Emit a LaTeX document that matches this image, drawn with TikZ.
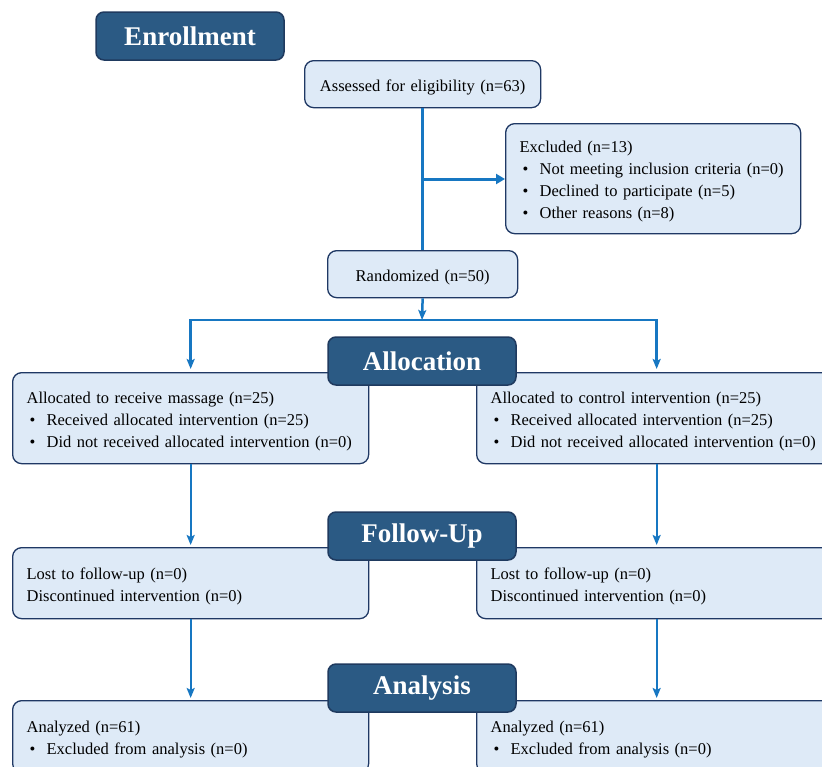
\documentclass[tikz,border=0pt]{standalone}
\usepackage{fontspec}
\setmainfont{Liberation Serif}
\usetikzlibrary{arrows.meta}
\definecolor{hdr}{HTML}{2B5A84}
\definecolor{hdrb}{HTML}{1F3A5F}
\definecolor{boxf}{HTML}{DEEAF7}
\definecolor{boxb}{HTML}{1F3864}
\definecolor{arr}{HTML}{1777C2}
\newcommand{\bul}{\hspace*{3pt}\makebox[17pt][l]{\textbullet}}
\begin{document}
\begin{tikzpicture}[x=1pt,y=-1pt,
 hdrbox/.style={draw=hdrb, fill=hdr, line width=1.5pt, rounded corners=8pt,
   minimum width=188pt, minimum height=48pt, text=white,
   font=\fontsize{27}{30}\selectfont\bfseries, inner sep=0pt},
 infobox/.style={draw=boxb, fill=boxf, line width=1.3pt, rounded corners=9pt,
   anchor=north west, inner xsep=14pt, inner ysep=0pt, align=left,
   font=\fontsize{16.5}{22}\selectfont},
 lower/.style={execute at begin node={\rule{0pt}{17.3pt}}},
 flow/.style={draw=arr, line width=2pt},
 tipA/.style={-{Triangle[length=9pt,width=10pt]}},
 tipB/.style={-{Stealth[length=10pt,width=8pt,inset=2pt]}}
]
\useasboundingbox (0,0) rectangle (822,766);
\fill[white] (0,0) rectangle (822,766);

% info boxes
\node[infobox, lower, align=center, minimum width=236pt, minimum height=47pt, text width=208pt] (assess) at (304,60) {Assessed for eligibility (n=63)};
\node[infobox, lower, minimum width=295pt, minimum height=110pt, text width=267pt] (excl) at (505,123)
 {Excluded (n=13)\\ \bul Not meeting inclusion criteria (n=0)\\ \bul Declined to participate (n=5)\\ \bul Other reasons (n=8)};
\node[infobox, lower, align=center, minimum width=190pt, minimum height=47pt, text width=162pt] (rand) at (327,250) {Randomized (n=50)};

\node[infobox, lower, minimum width=356pt, minimum height=91pt, text width=328pt] (allocL) at (12,372)
 {Allocated to receive massage (n=25)\\ \bul Received allocated intervention (n=25)\\ \bul Did not received allocated intervention (n=0)};
\node[infobox, lower, minimum width=360pt, minimum height=91pt, text width=332pt] (allocR) at (476,372)
 {Allocated to control intervention (n=25)\\ \bul Received allocated intervention (n=25)\\ \bul Did not received allocated intervention (n=0)};

\node[infobox, lower, minimum width=356pt, minimum height=71pt, text width=328pt] (fuL) at (12,547)
 {Lost to follow-up (n=0)\\ Discontinued intervention (n=0)};
\node[infobox, lower, minimum width=360pt, minimum height=71pt, text width=332pt] (fuR) at (476,547)
 {Lost to follow-up (n=0)\\ Discontinued intervention (n=0)};

\node[infobox, lower, minimum width=356pt, minimum height=72pt, text width=328pt] (anL) at (12,700)
 {Analyzed (n=61)\\ \bul Excluded from analysis (n=0)};
\node[infobox, lower, minimum width=360pt, minimum height=72pt, text width=332pt] (anR) at (476,700)
 {Analyzed (n=61)\\ \bul Excluded from analysis (n=0)};

% header boxes
\node[hdrbox] (henr) at (190,36) {\raisebox{-1.5pt}{Enrollment}};
\node[hdrbox] (halloc) at (422,361) {\raisebox{-1pt}{Allocation}};
\node[hdrbox] (hfu) at (422,536) {\raisebox{-1pt}{Follow-Up}};
\node[hdrbox] (han) at (422,688) {\raisebox{-1pt}{Analysis}};

% connectors
\coordinate (br) at (422,179);
\coordinate (split) at (422,320);
\draw[flow, line width=3pt] (assess.south) -- (rand.north);
\draw[flow, line width=3pt, tipA] (br) -- (br -| excl.west);
\draw[flow, line width=2.5pt, tipB] (rand.south) -- (split);
\draw[flow, line width=2.5pt, tipB, shorten >=3pt] (split) -| (allocL.north);
\draw[flow, line width=2.5pt, tipB, shorten >=3pt] (split) -| (allocL.north -| allocR.north);
\draw[flow, tipB, shorten >=2pt] (allocL.south) -- (fuL.north);
\draw[flow, tipB, shorten >=2pt] (allocR.south) -- (fuR.north);
\draw[flow, tipB, shorten >=2pt] (fuL.south) -- (anL.north);
\draw[flow, tipB, shorten >=2pt] (fuR.south) -- (anR.north);
\end{tikzpicture}
\end{document}
